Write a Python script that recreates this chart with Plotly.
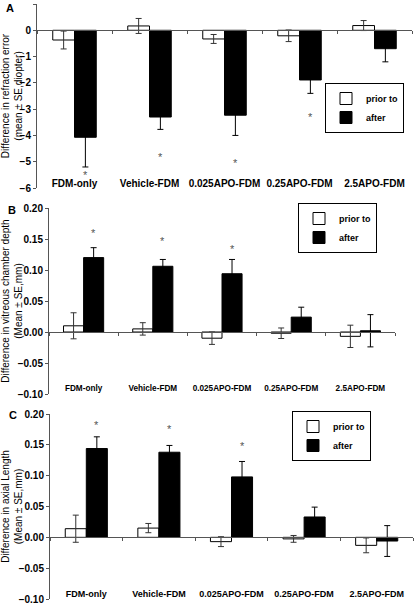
import plotly.graph_objects as go

categories = ["FDM-only", "Vehicle-FDM", "0.025APO-FDM", "0.25APO-FDM", "2.5APO-FDM"]
series_names = ["prior to", "after"]

# Panel A: refraction error (diopter)
A_prior = [-0.37, 0.165, -0.33, -0.21, 0.18]
A_prior_se = [0.34, 0.285, 0.17, 0.22, 0.19]
A_after = [-4.07, -3.30, -3.23, -1.89, -0.70]
A_after_se = [1.13, 0.47, 0.77, 0.51, 0.50]
A_star = [-5.40, -4.70, -4.95, -3.17, None]

# Panel B: vitreous chamber depth (mm)
B_prior = [0.010, 0.005, -0.010, -0.002, -0.007]
B_prior_se = [0.021, 0.010, 0.010, 0.0085, 0.018]
B_after = [0.120, 0.106, 0.094, 0.024, 0.002]
B_after_se = [0.016, 0.011, 0.023, 0.016, 0.026]
B_star = [0.164, 0.151, 0.139, None, None]

# Panel C: axial length (mm)
C_prior = [0.014, 0.015, -0.007, -0.0025, -0.013]
C_prior_se = [0.022, 0.0075, 0.008, 0.0055, 0.012]
C_after = [0.144, 0.138, 0.098, 0.033, -0.006]
C_after_se = [0.019, 0.011, 0.025, 0.016, 0.025]
C_star = [0.187, 0.180, 0.153, None, None]

W, H = 414, 605
BARGAP = 0.42
FONT = "Liberation Sans"

panels = [
    dict(label="A", prior=A_prior, prior_se=A_prior_se, after=A_after, after_se=A_after_se,
         star=A_star, yrange=[-6, 1], dtick=1, fmt="d",
         title="Difference in refraction error<br>(mean \u00b1 SE,diopter)",
         xpx=(37, 412), ypx=(4, 188), catpx=176, catfs=10,
         leg=(404, 83), lab=(10, 8)),
    dict(label="B", prior=B_prior, prior_se=B_prior_se, after=B_after, after_se=B_after_se,
         star=B_star, yrange=[-0.10, 0.20], dtick=0.05, fmt=".2f",
         title="Difference in vitreous chamber depth<br>(Mean \u00b1 SE,mm)",
         xpx=(49, 395), ypx=(208, 394), catpx=382, catfs=8.2,
         leg=(377, 203), lab=(12, 210)),
    dict(label="C", prior=C_prior, prior_se=C_prior_se, after=C_after, after_se=C_after_se,
         star=C_star, yrange=[-0.10, 0.20], dtick=0.05, fmt=".2f",
         title="Difference in axial Length<br>(Mean \u00b1 SE,mm)",
         xpx=(50, 413), ypx=(414, 599), catpx=587, catfs=9,
         leg=(371, 411), lab=(13, 415)),
]

fig = go.Figure()
layout = dict(
    template="none",
    width=W, height=H, margin=dict(l=0, r=0, t=0, b=0, autoexpand=False),
    paper_bgcolor="white", plot_bgcolor="white",
    barmode="group", bargap=BARGAP, bargroupgap=0,
    font=dict(family=FONT, size=10, color="black"),
    showlegend=True,
)
annotations = []

for i, p in enumerate(panels):
    n = i + 1
    xa = "x" if n == 1 else f"x{n}"
    ya = "y" if n == 1 else f"y{n}"
    za = f"x{n + 3}"
    leg = "legend" if n == 1 else f"legend{n}"
    xdom = [p["xpx"][0] / W, p["xpx"][1] / W]
    ydom = [1 - p["ypx"][1] / H, 1 - p["ypx"][0] / H]

    fig.add_trace(go.Bar(
        x=categories, y=p["prior"], name=series_names[0], xaxis=xa, yaxis=ya, legend=leg,
        marker=dict(color="white", line=dict(color="black", width=1)),
        error_y=dict(type="data", array=p["prior_se"], color="#333", thickness=1, width=3),
    ))
    fig.add_trace(go.Bar(
        x=categories, y=p["after"], name=series_names[1], xaxis=xa, yaxis=ya, legend=leg,
        marker=dict(color="black", line=dict(color="black", width=1)),
        error_y=dict(type="data", array=p["after_se"], color="black", thickness=1, width=3),
    ))
    # helper trace so the zero-line axis renders its boundary ticks
    fig.add_trace(go.Scatter(
        x=categories, y=[0] * len(categories), xaxis=za, yaxis=ya, mode="lines",
        line=dict(width=0), hoverinfo="skip", showlegend=False,
    ))

    y0, y1 = p["yrange"]
    zero_pos = ydom[0] + (0 - y0) / (y1 - y0) * (ydom[1] - ydom[0])

    layout["xaxis" if n == 1 else f"xaxis{n}"] = dict(
        domain=xdom, anchor="free", position=1 - p["catpx"] / H, automargin=False,
        type="category", categoryarray=categories,
        range=[-0.5, len(categories) - 0.5], showline=False, showgrid=False, ticks="",
        zeroline=False, tickangle=0,
        tickfont=dict(family=FONT, size=p["catfs"], weight="bold", color="black"),
    )
    layout[f"xaxis{n + 3}"] = dict(
        domain=xdom, anchor="free", position=zero_pos, overlaying=xa, automargin=False,
        type="category", categoryarray=categories, range=[-0.5, len(categories) - 0.5],
        showline=True, linecolor="#555", linewidth=1, ticks="outside", ticklen=3,
        tickcolor="#555", tickson="boundaries", showticklabels=False, showgrid=False,
        zeroline=False,
    )
    layout["yaxis" if n == 1 else f"yaxis{n}"] = dict(
        domain=ydom, anchor=xa, range=p["yrange"], dtick=p["dtick"], tickformat=p["fmt"],
        automargin=False,
        showline=True, linecolor="#555", linewidth=1, ticks="outside", ticklen=3,
        tickcolor="#555", showgrid=False, zeroline=False,
        tickfont=dict(family=FONT, size=10, weight="bold", color="black"),
        title=dict(text=p["title"], font=dict(family=FONT, size=10, color="black"), standoff=0),
    )
    layout[leg] = dict(
        x=p["leg"][0] / W, y=1 - p["leg"][1] / H, xanchor="right", yanchor="top",
        bordercolor="black", borderwidth=1, bgcolor="white",
        font=dict(family=FONT, size=9, weight="bold", color="black"),
        tracegroupgap=0, itemwidth=30,
    )

    # asterisks above the "after" bars
    slot_px = (p["xpx"][1] - p["xpx"][0]) / len(categories)
    shift = slot_px * (1 - BARGAP) / 4
    for c, s in zip(categories, p["star"]):
        if s is None:
            continue
        annotations.append(dict(
            x=c, y=s, xref=xa, yref=ya, text="*", showarrow=False, xshift=shift, yshift=-3,
            font=dict(family=FONT, size=11, color="#555"),
        ))
    annotations.append(dict(
        x=p["lab"][0] / W, y=1 - p["lab"][1] / H, xref="paper", yref="paper",
        text=f"<b>{p['label']}</b>", showarrow=False, xanchor="center", yanchor="middle",
        font=dict(family=FONT, size=11, color="black"),
    ))

layout["annotations"] = annotations
fig.update_layout(**layout)
fig.write_html("out.html", config={"displayModeBar": False},
               post_script="document.body.style.margin='0';")
